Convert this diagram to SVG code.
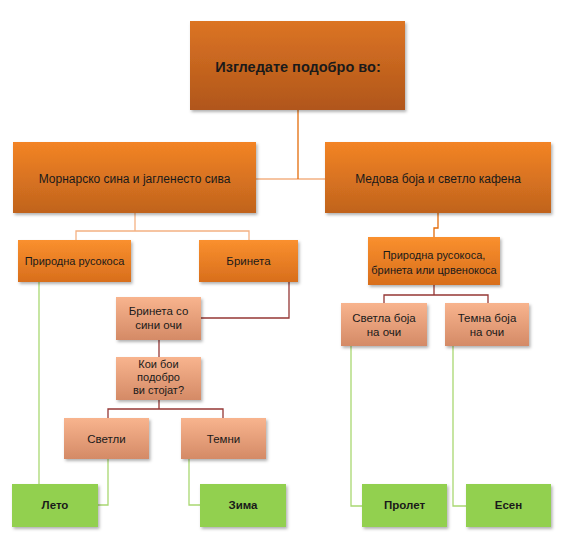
<svg xmlns="http://www.w3.org/2000/svg" width="565" height="543" viewBox="0 0 565 543">
<defs>
<linearGradient id="gRoot" x1="0" y1="0" x2="0" y2="1"><stop offset="0" stop-color="#dc7424"/><stop offset="1" stop-color="#b0561a"/></linearGradient>
<linearGradient id="gL1" x1="0" y1="0" x2="0" y2="1"><stop offset="0" stop-color="#f38425"/><stop offset="1" stop-color="#c0631d"/></linearGradient>
<linearGradient id="gL2" x1="0" y1="0" x2="0" y2="1"><stop offset="0" stop-color="#fa902e"/><stop offset="1" stop-color="#d86e1c"/></linearGradient>
<linearGradient id="gPeach" x1="0" y1="0" x2="0" y2="1"><stop offset="0" stop-color="#f8b48e"/><stop offset="1" stop-color="#d48a66"/></linearGradient>
<filter id="sh" x="-10%" y="-10%" width="125%" height="130%"><feDropShadow dx="1.5" dy="2" stdDeviation="1.5" flood-color="#000" flood-opacity="0.3"/></filter>
</defs>
<style>
text{font-family:"Liberation Sans",Arial,sans-serif;font-size:11.5px;fill:#1a1a1a;text-anchor:middle}
.b{font-weight:bold}
.t12{font-size:12px}
.t11{font-size:11px}
.root{fill:url(#gRoot);filter:url(#sh)}
.l1{fill:url(#gL1);filter:url(#sh)}
.l2{fill:url(#gL2);filter:url(#sh)}
.pe{fill:url(#gPeach);filter:url(#sh)}
.gr{fill:#92d050;filter:url(#sh)}
.c{fill:none;stroke-width:1.3}
.co{stroke:#f4b183}
.cd{stroke:#e36c0a}
.cr{stroke:#953735}
.cg{stroke:#a9d871}
</style>
<g id="connectors">
<path class="c co" d="M298,179 H256 M298,179 H325"/>
<path class="c cd" d="M298,110 V179"/>
<path class="c co" d="M135,213 V231 M76,240 V231 H249 V240"/>
<path class="c cd" d="M438,213 V228 H434 V237"/>
<path class="c cr" d="M434,285 V295 M384,303 V295 H488 V303"/>
<path class="c cr" d="M289,282 V318 H201"/>
<path class="c cr" d="M159,340 V357"/>
<path class="c cr" d="M159,400 V409 M108,418 V409 H223 V418"/>
<path class="c cg" d="M39,282 V484"/>
<path class="c cg" d="M108,459 V505 H98"/>
<path class="c cg" d="M189,459 V505 H200"/>
<path class="c cg" d="M351,346 V506 H362"/>
<path class="c cg" d="M453,346 V506 H466"/>
</g>
<g id="root"><rect class="root" x="190" y="21" width="215" height="89"/><text class="b" x="298" y="72" style="font-size:14.5px">Изгледате подобро во:</text></g>
<g id="mornarsko"><rect class="l1" x="13" y="142" width="243" height="71"/><text class="t12" x="134.5" y="183">Морнарско сина и јагленесто сива</text></g>
<g id="medova"><rect class="l1" x="325" y="142" width="226" height="71"/><text class="t12" x="438" y="183">Медова боја и светло кафена</text></g>
<g id="rusokosa"><rect class="l2" x="18" y="240" width="113" height="42"/><text class="t11" x="74.5" y="265">Природна русокоса</text></g>
<g id="brineta"><rect class="l2" x="199" y="240" width="99" height="42"/><text x="248.5" y="265">Бринета</text></g>
<g id="prirodna3"><rect class="l2" x="368" y="237" width="132" height="48"/><text class="t11" x="434" y="259">Природна русокоса,</text><text class="t11" x="434" y="274">бринета или црвенокоса</text></g>
<g id="brinetaSini"><rect class="pe" x="116" y="297" width="85" height="43"/><text x="158.5" y="315">Бринета со</text><text x="158.5" y="329">сини очи</text></g>
<g id="koiBoi"><rect class="pe" x="116" y="357" width="85" height="43"/><text class="t11" x="158.5" y="368">Кои бои</text><text class="t11" x="158.5" y="381">подобро</text><text class="t11" x="158.5" y="394">ви стојат?</text></g>
<g id="svetli"><rect class="pe" x="64" y="418" width="85" height="41"/><text x="106.5" y="443">Светли</text></g>
<g id="temni"><rect class="pe" x="181" y="418" width="85" height="41"/><text x="223.5" y="443">Темни</text></g>
<g id="svetlaBoja"><rect class="pe" x="341" y="303" width="86" height="43"/><text x="384" y="322">Светла боја</text><text x="384" y="336">на очи</text></g>
<g id="temnaBoja"><rect class="pe" x="445" y="303" width="84" height="43"/><text x="487" y="322">Темна боја</text><text x="487" y="336">на очи</text></g>
<g id="leto"><rect class="gr" x="12" y="484" width="86" height="43"/><text class="b" x="55" y="509">Лето</text></g>
<g id="zima"><rect class="gr" x="200" y="484" width="86" height="43"/><text class="b" x="243" y="509">Зима</text></g>
<g id="prolet"><rect class="gr" x="362" y="484" width="85" height="43"/><text class="b" x="404.5" y="509">Пролет</text></g>
<g id="esen"><rect class="gr" x="466" y="484" width="85" height="43"/><text class="b" x="508.5" y="509">Есен</text></g>
</svg>
